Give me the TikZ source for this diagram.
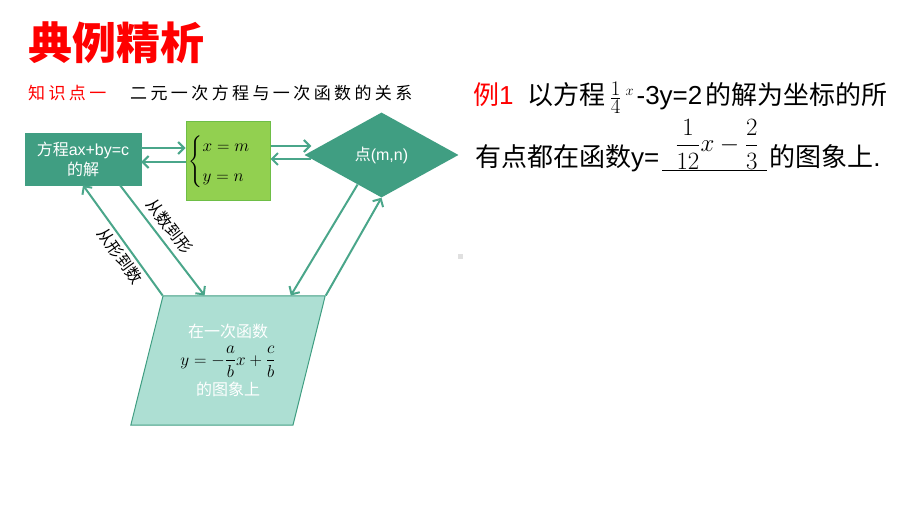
\documentclass[tikz,border=0pt]{standalone}
\usepackage{amsmath}
\usepackage{fontspec}
\setmainfont{Noto Sans CJK SC}
\newfontfamily\lat{Liberation Sans}
\usepackage{xcolor}
\usepackage{tikz}
\usetikzlibrary{positioning}
\usetikzlibrary{shapes.geometric,arrows.meta}

\definecolor{boxteal}{RGB}{64,158,130}
\definecolor{linkteal}{RGB}{74,166,138}
\definecolor{lightteal}{RGB}{173,223,211}
\definecolor{limegreen}{RGB}{146,208,80}
\definecolor{greenedge}{RGB}{110,190,70}

\begin{document}
\begin{tikzpicture}[x=1pt, y=-1pt,
  conn/.style={draw=linkteal, ->, line width=2pt, >={Straight Barb[length=6pt,width=12pt]}},
  flat/.style={inner sep=0, anchor=base west},
  lbl/.style={font=\fontsize{16}{16}\selectfont, inner sep=3pt}]

\useasboundingbox (0,0) rectangle (920,518);

% heading

\node [flat, text=red, font=\fontsize{44}{44}\selectfont\bfseries] at (28, 60) (title) {典例精析};
\node [flat, text=red, font=\fontsize{17}{17}\selectfont\addfontfeature{LetterSpace=20}] at (28, 100) (point) {知识点一};
\node [flat, font=\fontsize{17}{17}\selectfont\addfontfeature{LetterSpace=20}] at (130, 100) (topic) {二元一次方程与一次函数的关系};

% top row

\node [draw=boxteal, fill=boxteal, text=white, align=center, minimum width=116pt, minimum height=52pt, inner sep=2pt, font=\fontsize{16}{20}\selectfont] at (83, 159) (eqn) {方程{\lat ax+by=c}\\的解};
\node [draw=greenedge, fill=limegreen, line width=1pt, minimum width=84pt, minimum height=79pt, inner sep=0, font=\fontsize{17}{20}\selectfont] at (228, 161.5) (sol) {$\begin{cases} x=m\\[6pt] y=n \end{cases}$};
\node [diamond, aspect=1.8, fill=boxteal, text=white, minimum width=154pt, minimum height=85pt, inner sep=0, font=\fontsize{16}{16}\selectfont] at (381.5, 155) (pt) {点{\lat (m,n)}};

\path [conn] ([yshift=11pt]eqn.east) to ([yshift=11pt]eqn.east -| sol.west);
\path [conn] ([yshift=-3pt]eqn.east -| sol.west) to ([yshift=-3pt]eqn.east);
\path [conn] ([yshift=15.5pt]sol.east) to ([xshift=7pt,yshift=9pt]pt.west);
\path [conn] ([xshift=7pt,yshift=-4pt]pt.west) to ([yshift=2.5pt]sol.east);

% lower box

\node [trapezium, trapezium left angle=76, trapezium right angle=104, fill=lightteal, draw=boxteal, line width=1pt, inner sep=4pt, text=white, font=\fontsize{16}{20}\selectfont] at (228, 360.5) (graph) {\parbox[c][121pt][c]{122pt}{\centering 在一次函数\\[6pt] {\color{black}\fontsize{16}{16}\selectfont$y=-\dfrac{a}{b}x+\dfrac{c}{b}$}\\[4pt] 的图象上}};

\path [conn] ([xshift=37pt]eqn.south) to node [lbl, pos=0.45, sloped, above=3pt] {从数到形} ([xshift=42pt]graph.top left corner);
\path [conn] (graph.top left corner) to node [lbl, pos=0.42, sloped, below=0pt] {从形到数} (eqn.south);
\path [conn] (pt.-129) to ([xshift=-35pt]graph.top right corner);
\path [conn] (graph.top right corner) to (pt.south);

% example text

\node [flat, font=\fontsize{26}{26}\selectfont] at (473, 105) (line1) {{\color{red}例{\lat 1}}\hspace{14pt}以方程\hspace{4pt}{\fontsize{30}{30}\selectfont$\tfrac{1}{4}$}\hspace{4pt}\raisebox{9pt}{\fontsize{15}{15}\selectfont$x$}\hspace{3pt}{\lat -3y=2}\hspace{3pt}的解为坐标的所};
\node [flat, font=\fontsize{26}{26}\selectfont] at (475, 167) (line2) {有点都在函数{\lat y=}\hspace{3pt}\rlap{\hspace{13pt}\raisebox{15pt}{\fontsize{25}{25}\selectfont$\dfrac{1}{12}x-\dfrac{2}{3}$}}\underline{\hspace{105pt}}\hspace{2pt}的图象上{\lat .}};

\fill [black!12] (458, 254) rectangle (463, 259);

\end{tikzpicture}
\end{document}
